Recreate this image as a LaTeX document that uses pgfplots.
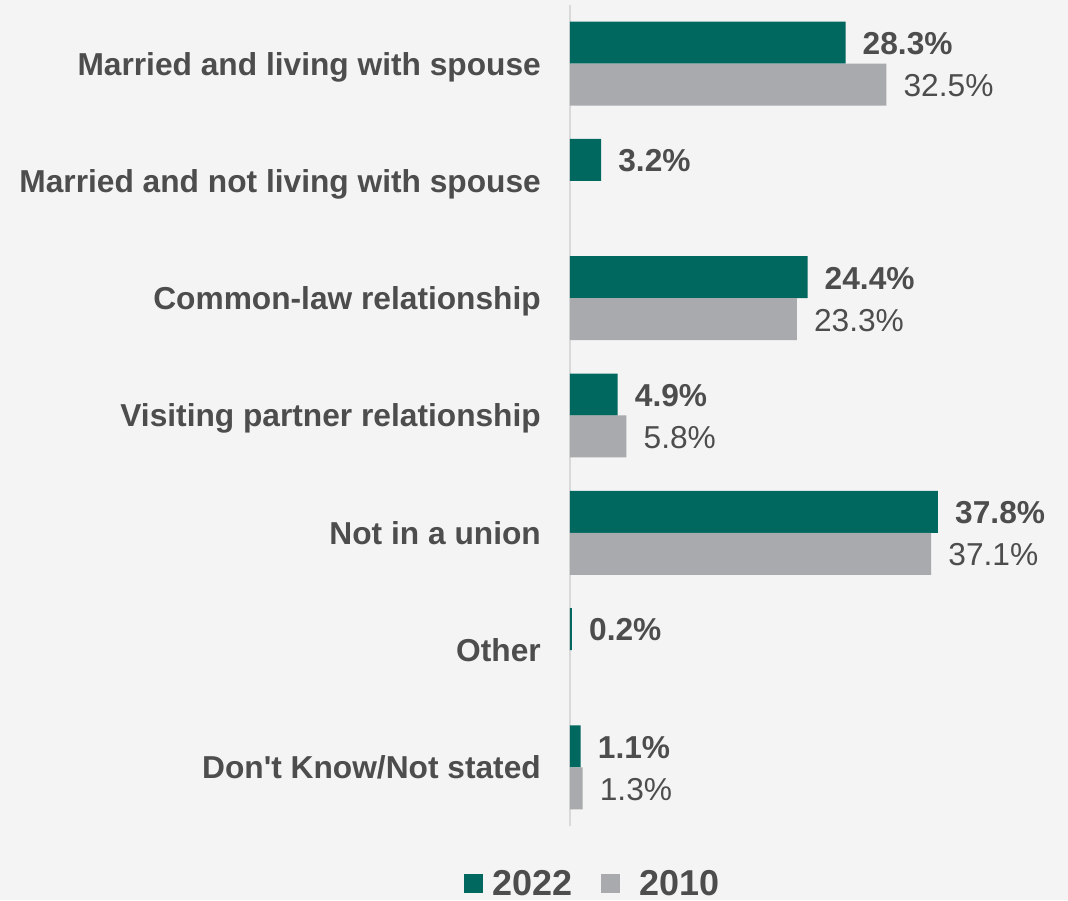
\documentclass[border=0pt]{standalone}
\usepackage{pgfplots}
\pgfplotsset{compat=1.18}
\usepackage{fontspec}
\setmainfont{Liberation Sans}
\definecolor{bg}{RGB}{244,244,244}
\definecolor{teal22}{RGB}{0,104,94}
\definecolor{gray10}{RGB}{168,170,173}
\definecolor{txt}{RGB}{77,77,77}
\definecolor{axl}{RGB}{217,217,217}
\begin{document}
\begin{tikzpicture}
\path[use as bounding box, fill=bg] (-570pt,-74pt) rectangle (498pt,826pt);
\begin{axis}[
  scale only axis,
  width=467.3pt, height=821pt,
  xmin=0, xmax=48, ymin=-0.5, ymax=6.5,
  xbar, bar width=42pt, bar shift=0pt,
  axis x line=none,
  axis y line*=left,
  y axis line style={draw=axl, line width=1.8pt},
  ytick={0,1,2,3,4,5,6},
  yticklabels={Don\textquotesingle t Know/Not stated, Other, Not in a union, Visiting partner relationship, Common-law relationship, Married and not living with spouse, Married and living with spouse},
  major tick length=0pt,
  yticklabel style={font=\fontsize{31.7}{38}\selectfont\bfseries, text=txt, inner sep=0pt, anchor=base east, xshift=-29pt, yshift=-11.4pt},
  point meta=x,
  nodes near coords={\pgfmathprintnumber{\pgfplotspointmeta}\%},
  /pgf/number format/.cd, fixed, fixed zerofill, precision=1, assume math mode=true,
  /pgfplots/.cd,
  every node near coord/.append style={inner sep=0pt, anchor=base west, xshift=17pt, yshift=-11.8pt, text=txt},
  legend columns=2,
  legend style={at={(axis description cs:0.047,-0.0706)}, anchor=center, draw=none, fill=none,
    font=\fontsize{36}{42}\selectfont\bfseries, text=txt,
    column sep=0pt,
    /tikz/every even column/.append style={column sep=29pt},
    nodes={inner sep=0pt}},
]
\addplot[fill=teal22, draw=none, every node near coord/.append style={font=\fontsize{31.7}{38}\selectfont\bfseries},
  legend image code/.code={\fill[teal22] (0pt,-9.5pt) rectangle (19pt,9.5pt); \path (28pt,0pt);}]
  coordinates {(28.3,6.179) (3.2,5.179) (24.4,4.179) (4.9,3.179) (37.8,2.179) (0.2,1.179) (1.1,0.179)};
\addlegendentry{2022}
\addplot[fill=gray10, draw=none, every node near coord/.append style={font=\fontsize{31.7}{38}\selectfont},
  legend image code/.code={\fill[gray10] (0pt,-9.5pt) rectangle (19pt,9.5pt); \path (38pt,0pt);}]
  coordinates {(32.5,5.821) (23.3,3.821) (5.8,2.821) (37.1,1.821) (1.3,-0.179)};
\addlegendentry{2010}
\end{axis}
\end{tikzpicture}
\end{document}
